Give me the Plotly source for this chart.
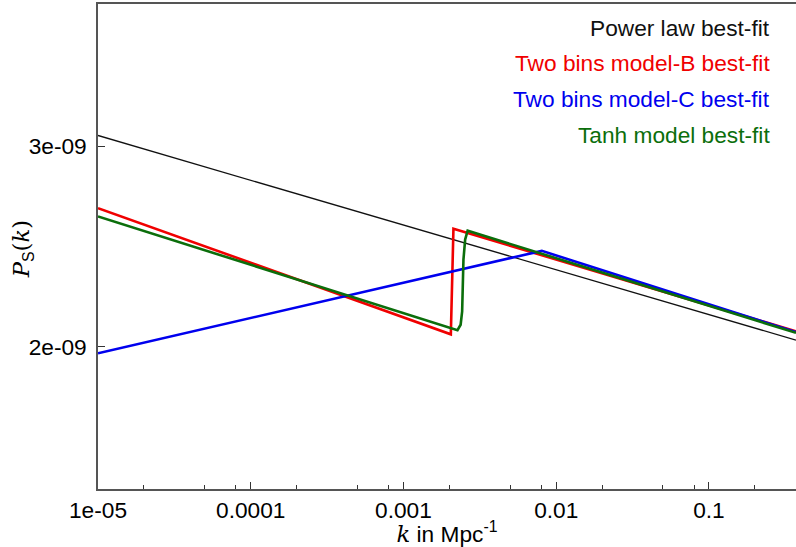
import math
import plotly.graph_objects as go

# ---- data ----
k_power = [1e-5, 0.3715]
P_power = [3.066e-9, 2.027e-9]

k_model_B = [1e-5, 2.042e-3, 2.124e-3, 0.3715]
P_model_B = [2.647e-9, 2.051e-9, 2.539e-9, 2.063e-9]

k_model_C = [1e-5, 8.05e-3, 0.3715]
P_model_C = [1.974e-9, 2.428e-9, 2.060e-9]

k_tanh = [1e-5, 2.257e-3, 2.367e-3, 2.422e-3, 2.470e-3, 2.534e-3, 2.631e-3, 0.3715]
P_tanh = [2.603e-9, 2.068e-9, 2.091e-9, 2.148e-9, 2.385e-9, 2.484e-9, 2.529e-9, 2.057e-9]

series_names = ["Power law best-fit", "Two bins model-B best-fit",
                "Two bins model-C best-fit", "Tanh model best-fit"]
series_colors = ["#111111", "#f00000", "#0000ee", "#0b6e0b"]
series_widths = [1.3, 2.6, 2.6, 2.6]

x_tickvals = [1e-5, 1e-4, 1e-3, 1e-2, 1e-1]
x_ticktext = ["1e-05", "0.0001", "0.001", "0.01", "0.1"]
x_minorvals = [m * 10.0 ** e for e in range(-5, 0) for m in (2, 5, 8)]
y_tickvals = [2e-9, 3e-9]
y_ticktext = ["2e-09", "3e-09"]

FONT = "Liberation Sans, Arial, Helvetica, sans-serif"
SERIF = "style=\"font-family:'DejaVu Serif','Liberation Serif',serif\""
FS = 22.7

fig = go.Figure()
for kk, pp, name, col, w in zip(
        [k_power, k_model_B, k_model_C, k_tanh],
        [P_power, P_model_B, P_model_C, P_tanh],
        series_names, series_colors, series_widths):
    fig.add_trace(go.Scatter(x=kk, y=pp, mode="lines", name=name,
                             line=dict(color=col, width=w), showlegend=False))

# legend as coloured right-aligned text
legend_y = [0.951, 0.878, 0.804, 0.730]
for name, col, yy in zip(series_names, series_colors, legend_y):
    fig.add_annotation(text=name, xref="paper", yref="paper", x=0.9655, y=yy,
                       xanchor="right", yanchor="middle", showarrow=False,
                       font=dict(family=FONT, size=FS, color=col))

# y-axis title
y_title = (f"<span {SERIF}><i>P</i></span><sub>S</sub>"
           f"<span {SERIF}>(<i>k</i>)</span>")
fig.add_annotation(text=y_title, xref="paper", yref="paper",
                   x=-0.107, y=0.495, xanchor="center", yanchor="middle",
                   textangle=-90, showarrow=False,
                   font=dict(family=FONT, size=FS, color="black"))

x_title = f"<span {SERIF}><i>k</i></span> in Mpc<sup>-1</sup>"

axis_common = dict(showgrid=False, zeroline=False, showline=True,
                   linecolor="#555555", linewidth=1.5, ticks="inside",
                   tickcolor="#333333", tickwidth=1.2,
                   tickfont=dict(family=FONT, size=FS, color="black"))

fig.update_xaxes(type="log", range=[-5, math.log10(0.3715)], mirror=True,
                 tickmode="array", tickvals=x_tickvals, ticktext=x_ticktext,
                 ticklen=7,
                 minor=dict(ticks="inside", ticklen=4, tickcolor="#333333",
                            tickmode="array", tickvals=x_minorvals),
                 title=dict(text=x_title,
                            font=dict(family=FONT, size=FS, color="black"),
                            standoff=0),
                 **axis_common)
fig.update_yaxes(type="log", range=[math.log10(1.5e-9), math.log10(4e-9)],
                 mirror=False, tickmode="array", tickvals=y_tickvals,
                 ticktext=y_ticktext, ticklen=7, ticklabelstandoff=5,
                 **axis_common)

fig.update_layout(width=796, height=547,
                  margin=dict(l=98, r=0, t=4, b=58, autoexpand=False),
                  paper_bgcolor="white", plot_bgcolor="white",
                  font=dict(family=FONT, size=FS, color="black"))

fig.write_html("out.html", config={"displayModeBar": False},
               post_script="document.body.style.margin='0px';")
